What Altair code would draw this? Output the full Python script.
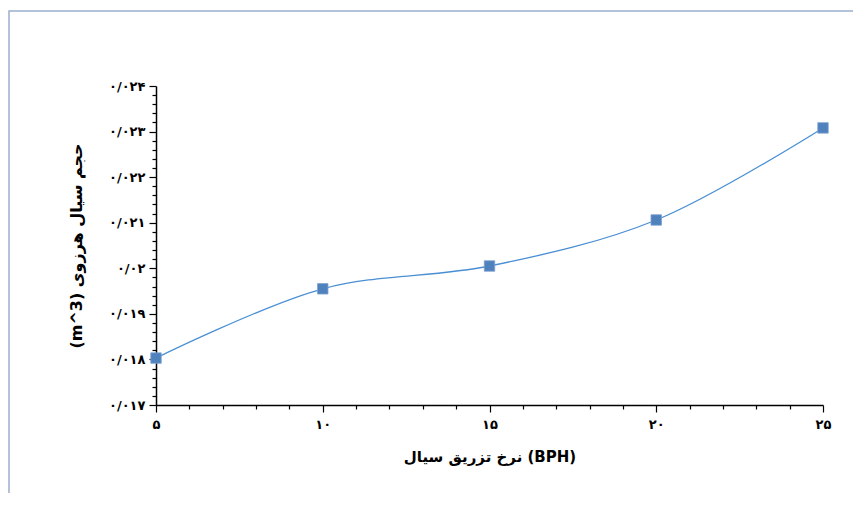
import altair as alt
import pandas as pd
import numpy as np

# data
rate_bph = [5, 10, 15, 20, 25]
volume_m3 = [0.01803, 0.01955, 0.02005, 0.02106, 0.02308]

x_major = [5, 10, 15, 20, 25]
x_major_labels = ["۵", "۱۰", "۱۵", "۲۰", "۲۵"]
y_major = [0.017, 0.018, 0.019, 0.020, 0.021, 0.022, 0.023, 0.024]
y_major_labels = ["۰/۰۱۷", "۰/۰۱۸", "۰/۰۱۹", "۰/۰۲", "۰/۰۲۱", "۰/۰۲۲", "۰/۰۲۳", "۰/۰۲۴"]

x_title = "نرخ تزریق سیال (BPH)"
y_title = "(m^3) حجم سیال هرزوی"

df = pd.DataFrame({"rate": rate_bph, "vol": volume_m3})

x_ticks = [int(v) for v in range(5, 26)]
y_ticks = [round(float(v), 4) for v in np.arange(0.017, 0.02401, 0.0002)]

x_map = ",".join(f"'{v}':'{l}'" for v, l in zip(x_major, x_major_labels))
y_map = ",".join(f"'{v:.4f}':'{l}'" for v, l in zip(y_major, y_major_labels))

FONT = "DejaVu Sans"

x_axis = alt.Axis(
    values=x_ticks, tickCount=500,
    labelExpr="({" + x_map + "})[format(datum.value,'d')] || ''",
    title=x_title,
    titleFont=FONT, titleFontSize=15, titleFontWeight="bold", titleColor="black",
    titlePadding=18,
    labelFont=FONT, labelFontSize=13, labelFontWeight="bold", labelColor="black",
    labelPadding=6,
    domainColor="black", domainWidth=1.5,
    tickColor="black", tickWidth=1.2,
    tickSize={"condition": {"test": "datum.value % 5 === 0", "value": 7}, "value": 4},
    grid=False, labelFlush=False, labelOverlap=False,
)

y_axis = alt.Axis(
    values=y_ticks, tickCount=500,
    labelExpr="({" + y_map + "})[format(datum.value,'.4f')] || ''",
    title=y_title,
    titleFont=FONT, titleFontSize=16, titleFontWeight="bold", titleColor="black",
    titlePadding=24,
    labelFont=FONT, labelFontSize=13, labelFontWeight="bold", labelColor="black",
    labelPadding=4,
    domainColor="black", domainWidth=1.5,
    tickColor="black", tickWidth=1.2,
    tickSize={"condition": {"test": "abs(datum.value*1000 - round(datum.value*1000)) < 0.01", "value": 7}, "value": 4},
    grid=False, labelFlush=False, labelOverlap=False,
)

x_enc = alt.X("rate:Q", scale=alt.Scale(domain=[5, 25], nice=False, zero=False), axis=x_axis)
y_enc = alt.Y("vol:Q", scale=alt.Scale(domain=[0.017, 0.024], nice=False, zero=False), axis=y_axis)

line = alt.Chart(df).mark_line(
    interpolate="catmull-rom", color="#4A8FD4", strokeWidth=1.3
).encode(x=x_enc, y=y_enc)

points = alt.Chart(df).mark_point(
    shape="square", filled=True, size=110, color="#4F81BD", opacity=1,
    stroke="#7FA3D0", strokeWidth=0.8
).encode(x="rate:Q", y="vol:Q")

border = alt.Chart(alt.Data(values=[{}])).mark_rect(
    fill=None, stroke="#9AAECB", strokeWidth=1.5
).encode(
    x=alt.value(-147), x2=alt.value(760), y=alt.value(-75), y2=alt.value(450)
)

chart = alt.layer(border, line, points).properties(
    width=667, height=319,
    autosize=alt.AutoSizeParams(type="none"),
    padding={"left": 148, "top": 78, "right": 30, "bottom": 88},
).configure_view(stroke=None)

chart.save("out.html", embed_options={"renderer": "svg", "actions": False})
